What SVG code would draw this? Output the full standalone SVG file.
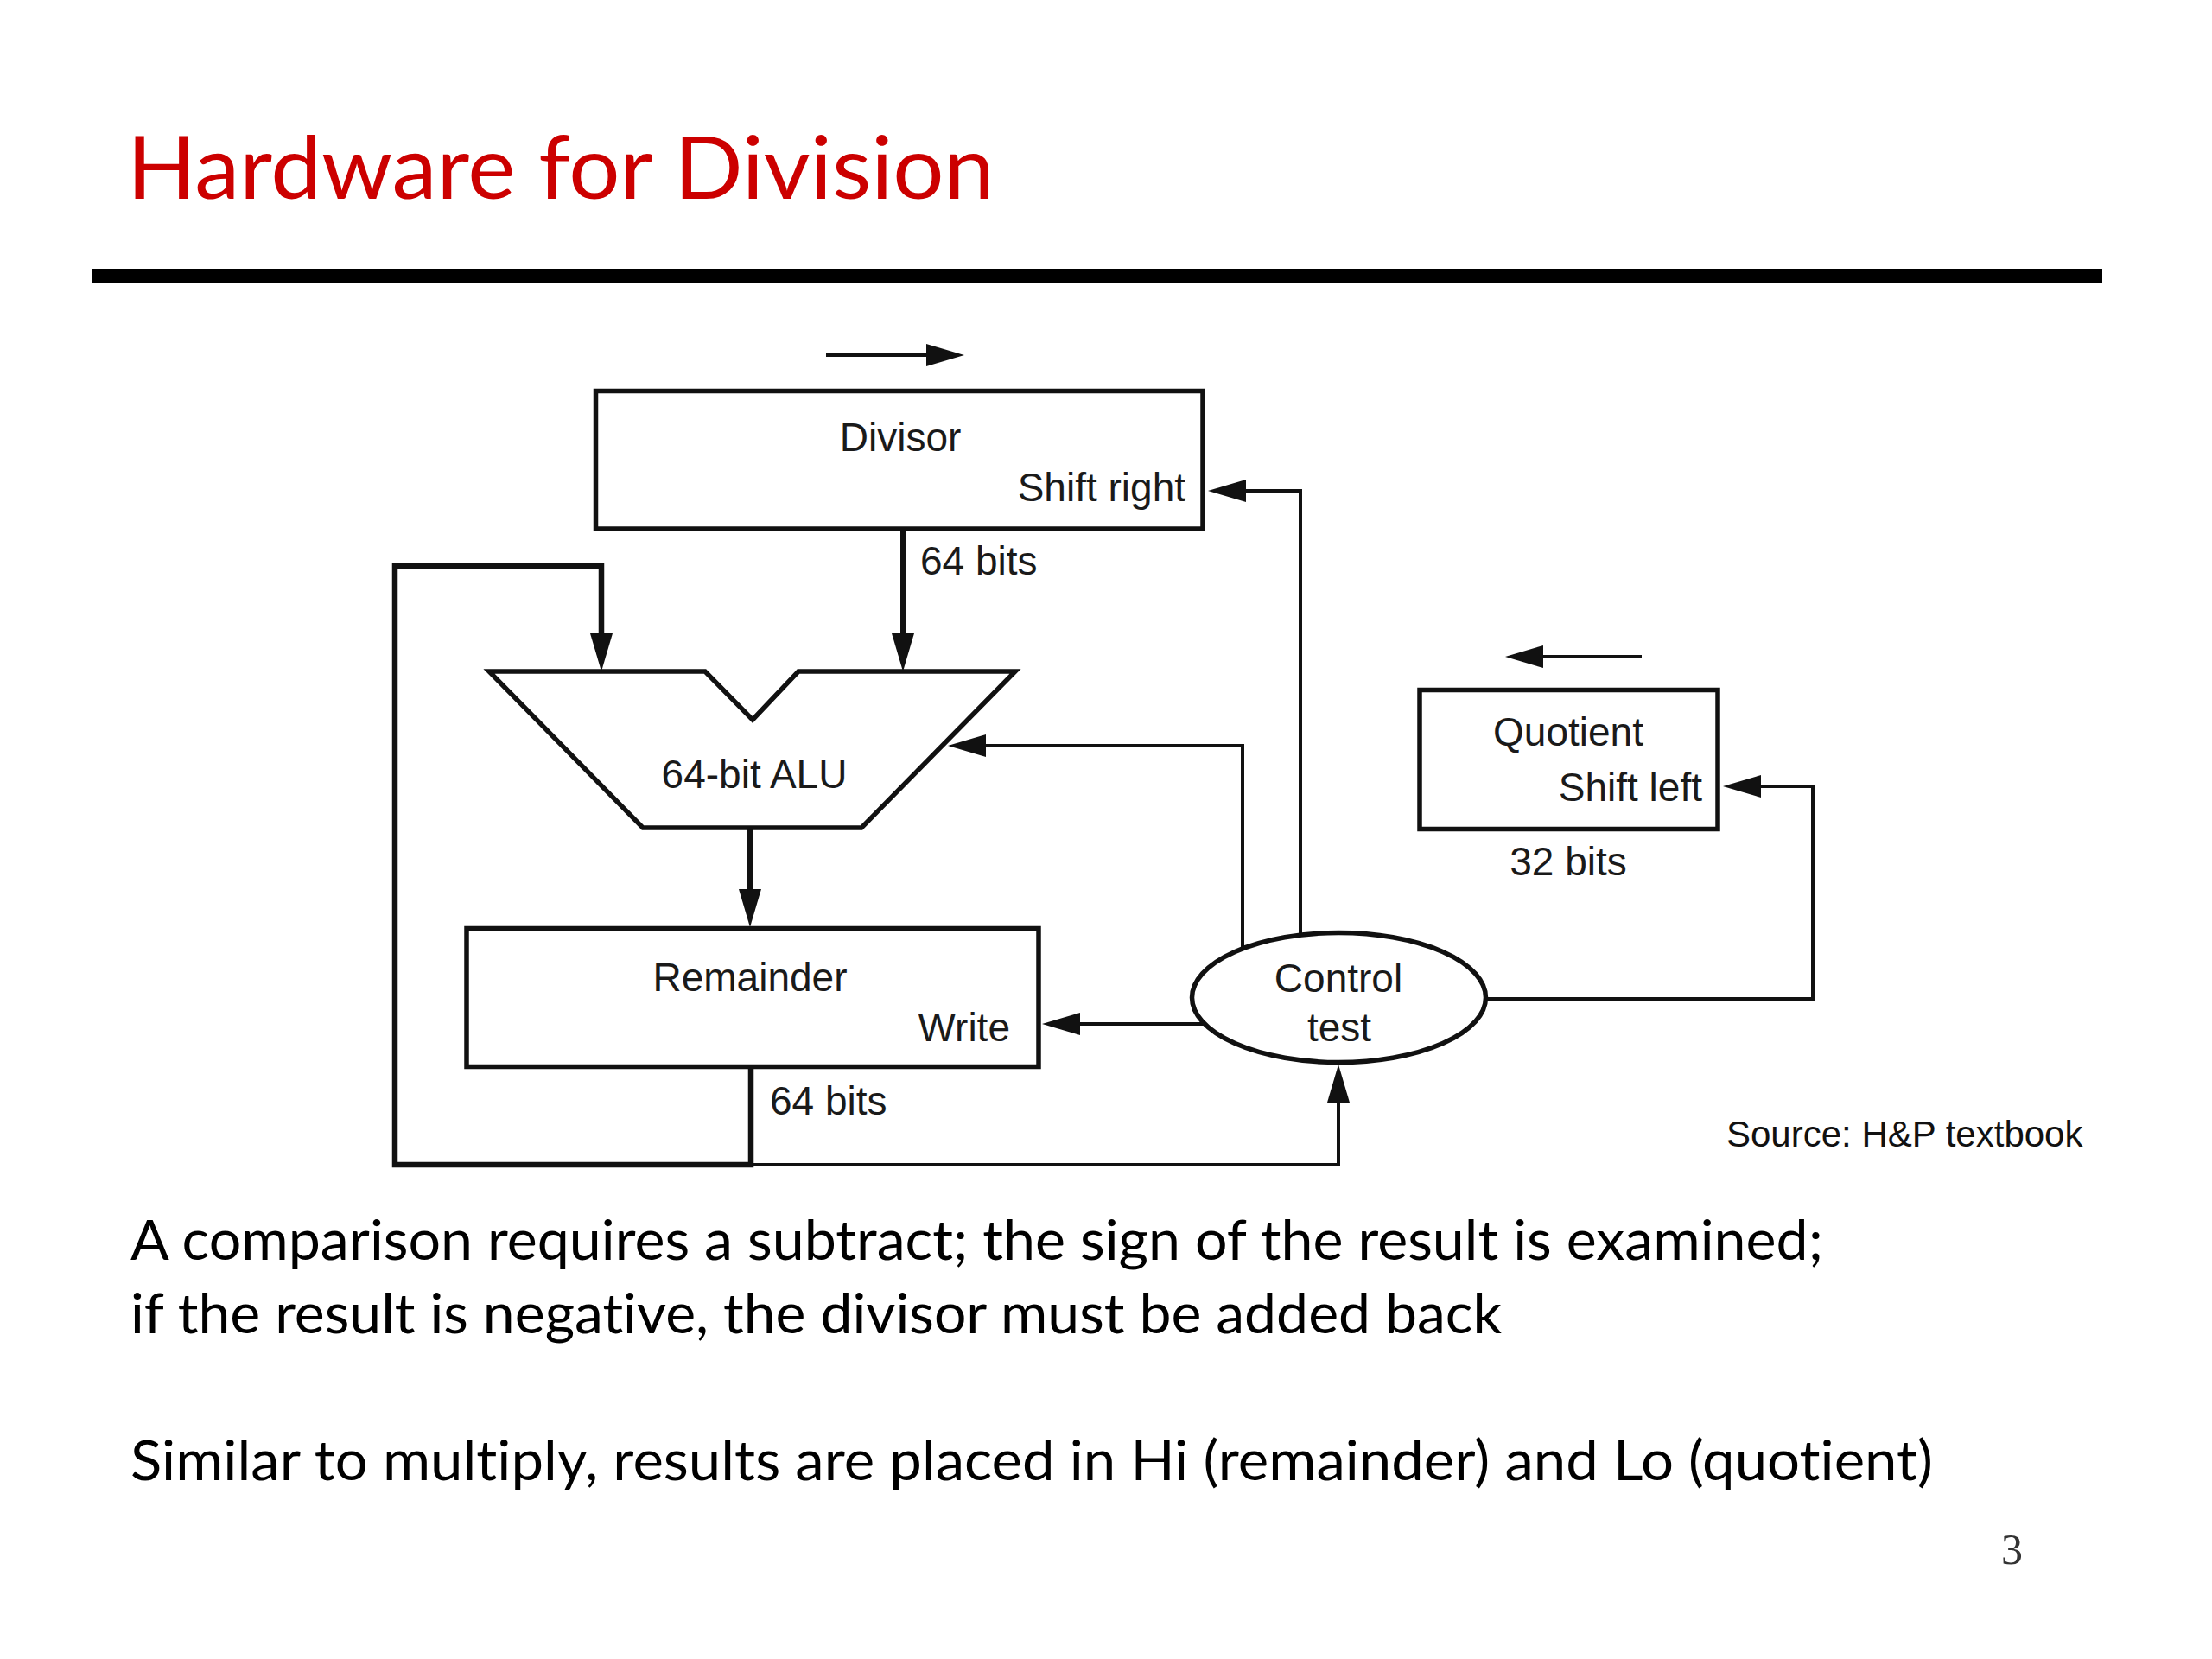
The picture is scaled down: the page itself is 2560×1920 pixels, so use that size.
<svg xmlns="http://www.w3.org/2000/svg" width="2560" height="1920" viewBox="0 0 2560 1920">
<defs>
<style>
.bg{fill:#ffffff}
.box{fill:#ffffff;stroke:#111;stroke-width:5.5}
.lbl{font-family:"Liberation Sans",Arial,Helvetica,sans-serif;font-size:46px;fill:#1a1a1a}
.src{font-family:"Liberation Sans",Arial,Helvetica,sans-serif;font-size:42px;fill:#111}
.body{font-family:Lato,"Open Sans",sans-serif;font-size:63px;fill:#000;font-variant-ligatures:none}
.title{font-family:Lato,"Open Sans",sans-serif;font-size:100px;fill:#cc0000;font-variant-ligatures:none}
.thin{fill:none;stroke:#111;stroke-width:4}
.thick{fill:none;stroke:#111;stroke-width:6.5}
.mid{fill:none;stroke:#111;stroke-width:6}
</style>
<marker id="ah" viewBox="0 0 44 26" refX="0" refY="13" markerWidth="44" markerHeight="26" markerUnits="userSpaceOnUse" orient="auto">
<path d="M0,0 L44,13 L0,26 Z" fill="#111"/>
</marker>
</defs>
<rect class="bg" x="0" y="0" width="2560" height="1920"/>
<text class="title" x="147" y="230" textLength="1004" lengthAdjust="spacingAndGlyphs">Hardware for Division</text>
<rect x="106" y="311" width="2327" height="17" fill="#000"/>

<g id="connectors">
<path class="thin" d="M956 411 H1072" marker-end="url(#ah)"/>
<path class="thin" d="M1900 760 H1786" marker-end="url(#ah)"/>
<path class="mid" d="M1045 612 V733" marker-end="url(#ah)"/>
<path class="thick" d="M869 1235 V1348 H457 V655 H696 V733" marker-end="url(#ah)"/>
<path class="thin" d="M869 1348 H1549 V1276" marker-end="url(#ah)"/>
<path class="mid" d="M868 958 V1029" marker-end="url(#ah)"/>
<path class="thin" d="M1505 1082 V568 H1442" marker-end="url(#ah)"/>
<path class="thin" d="M1438 1098 V863 H1141" marker-end="url(#ah)"/>
<path class="thin" d="M1394 1185 H1250" marker-end="url(#ah)"/>
<path class="thin" d="M1719 1156 H2098 V910 H2038" marker-end="url(#ah)"/>
</g>

<g id="divisor">
<rect class="box" x="689.5" y="452.5" width="702.5" height="159.5"/>
<text class="lbl" x="1042" y="522" text-anchor="middle">Divisor</text>
<text class="lbl" x="1372" y="580" text-anchor="end">Shift right</text>
</g>
<text class="lbl" x="1065" y="665">64 bits</text>

<g id="alu">
<polygon class="box" points="566,777 816,777 871,833 924,777 1175,777 997,958 744,958" stroke-width="6"/>
<text class="lbl" x="873" y="912" text-anchor="middle">64-bit ALU</text>
</g>

<g id="remainder">
<rect class="box" x="540" y="1074.5" width="662" height="160"/>
<text class="lbl" x="868" y="1147" text-anchor="middle">Remainder</text>
<text class="lbl" x="1169" y="1205" text-anchor="end">Write</text>
</g>
<text class="lbl" x="891" y="1290">64 bits</text>

<g id="quotient">
<rect class="box" x="1643" y="798.5" width="345" height="161"/>
<text class="lbl" x="1815" y="863" text-anchor="middle">Quotient</text>
<text class="lbl" x="1970" y="927" text-anchor="end">Shift left</text>
</g>
<text class="lbl" x="1815" y="1013" text-anchor="middle">32 bits</text>

<g id="control">
<ellipse class="box" cx="1549.5" cy="1154.5" rx="170" ry="75"/>
<text class="lbl" x="1549" y="1148" text-anchor="middle">Control</text>
<text class="lbl" x="1550" y="1205" text-anchor="middle">test</text>
</g>

<text class="src" x="1998" y="1327">Source: H&amp;P textbook</text>

<text class="body" x="151" y="1458" textLength="1959" lengthAdjust="spacingAndGlyphs">A comparison requires a subtract; the sign of the result is examined;</text>
<text class="body" x="151" y="1543" textLength="1587" lengthAdjust="spacingAndGlyphs">if the result is negative, the divisor must be added back</text>
<text class="body" x="151" y="1713" textLength="2086" lengthAdjust="spacingAndGlyphs">Similar to multiply, results are placed in Hi (remainder) and Lo (quotient)</text>
<text x="2316" y="1810" font-family="'Liberation Serif','Times New Roman',serif" font-size="50" fill="#333">3</text>
</svg>
